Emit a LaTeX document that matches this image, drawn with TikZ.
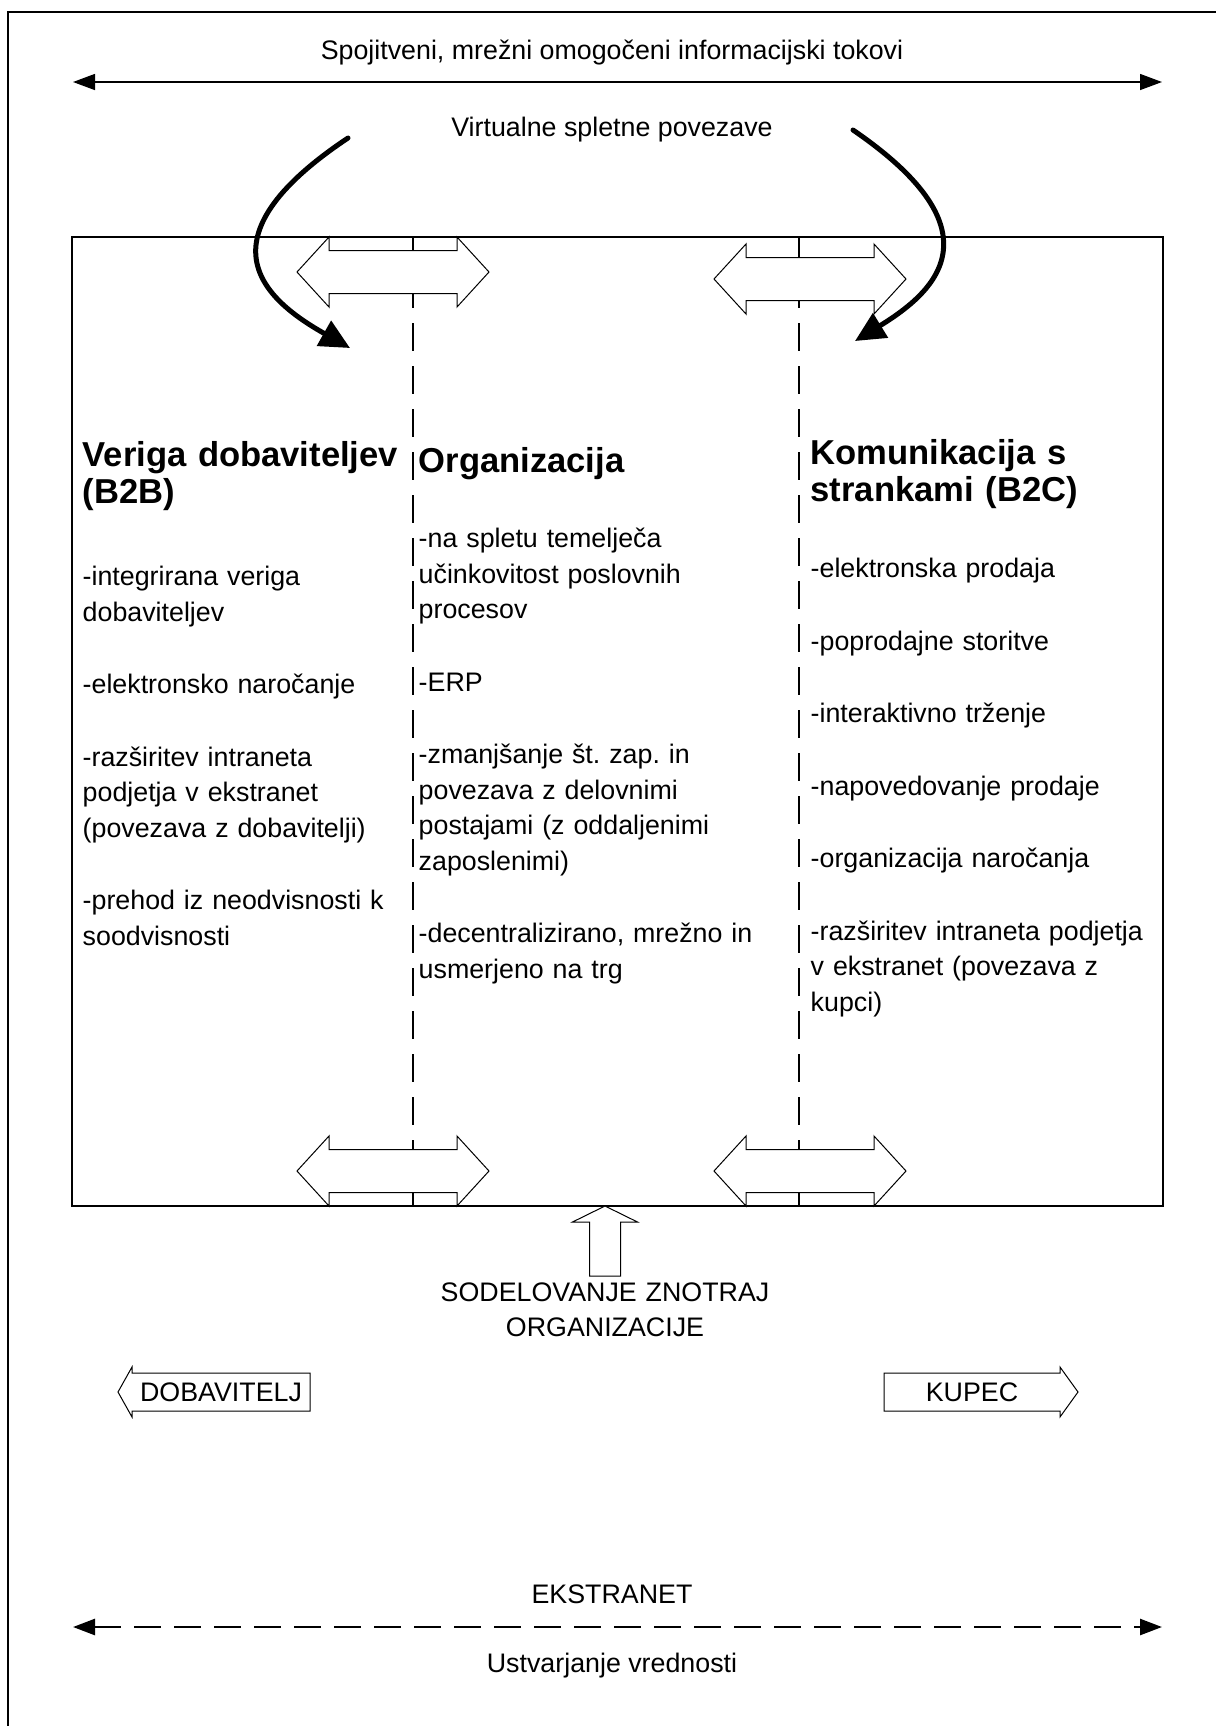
\documentclass[tikz,border=0pt]{standalone}
\usepackage{fontspec}
\setmainfont{Liberation Sans}
\usetikzlibrary{%
  arrows.meta,%
  positioning% wg. " of "
}

\begin{document}
\begin{tikzpicture}
  [
  x=0.5pt, y=-0.5pt,
  line width=0.7pt,
  draw=black, >={Triangle[length=11pt,width=8pt]},
  txt/.style={font=\fontsize{13.4}{17.75}\selectfont, inner sep=0pt},
  coltxt/.style={txt, anchor=base west, text width=185pt, align=left},
  coltitle/.style={coltxt, font=\fontsize{17.3}{18.5}\selectfont\bfseries},
  hollow/.style={draw=black, fill=white, line width=0.5pt},
  divider/.style={line width=1.2pt, dash pattern=on 14pt off 7.5pt},
  bent/.style={line width=2.5pt, line cap=round, -{Triangle[length=15pt,width=14pt]}},
  ]

\useasboundingbox (0,0) rectangle (1216,1726);
\draw (1216,12) -- (8,12) -- (8,1726);

\node[txt, anchor=base] (flows) at (612,59) {Spojitveni, mrežni omogočeni informacijski tokovi};
\coordinate (flowL) at (73,82);
\coordinate (flowR) at (1162,82);
\draw[<->] (flowL) -- (flowR);
\node[txt, anchor=base] (virtual) at (612,136) {Virtualne spletne povezave};

\draw (72,237) rectangle (1163,1206);
\draw[divider] (413,237) -- (413,1206);
\draw[divider] (799,237) -- (799,1206);

\draw[hollow] (297,272) -- (329,237) -- (329,250.5) -- (457,250.5) -- (457,237) -- (489,272) -- (457,307) -- (457,293.5) -- (329,293.5) -- (329,307) -- cycle;
\draw[hollow] (714,279) -- (746,244) -- (746,257.5) -- (874,257.5) -- (874,244) -- (906,279) -- (874,314) -- (874,300.5) -- (746,300.5) -- (746,314) -- cycle;
\draw[hollow] (297,1171) -- (329,1136) -- (329,1149.5) -- (457,1149.5) -- (457,1136) -- (489,1171) -- (457,1206) -- (457,1192.5) -- (329,1192.5) -- (329,1206) -- cycle;
\draw[hollow] (714,1171) -- (746,1136) -- (746,1149.5) -- (874,1149.5) -- (874,1136) -- (906,1171) -- (874,1206) -- (874,1192.5) -- (746,1192.5) -- (746,1206) -- cycle;

\coordinate (vlinkL) at (348,138);
\coordinate (supplyin) at (350,348);
\draw[bent] (vlinkL) .. controls (195,240) and (265,300) .. (supplyin);
\coordinate (vlinkR) at (853,130);
\coordinate (custin) at (855,341);
\draw[bent] (vlinkR) .. controls (1002,232) and (935,292) .. (custin);

\node[coltitle] (supplyhd) at (82,466) {Veriga dobaviteljev\\(B2B)};
\node[coltxt] (supplytxt) at (82,585.5) {-integrirana veriga\\dobaviteljev\\[18.5pt]-elektronsko naročanje\\[18.5pt]-razširitev intraneta\\podjetja v ekstranet\\(povezava z dobavitelji)\\[18.5pt]-prehod iz neodvisnosti k\\soodvisnosti};

\node[coltitle] (orghd) at (418,472) {Organizacija};
\node[coltxt] (orgtxt) at (418,547.5) {-na spletu temelječa\\učinkovitost poslovnih\\procesov\\[18.5pt]-ERP\\[18.5pt]-zmanjšanje št.\ zap.\ in\\povezava z delovnimi\\postajami (z oddaljenimi\\zaposlenimi)\\[18.5pt]-decentralizirano, mrežno in\\usmerjeno na trg};

\node[coltitle] (custhd) at (810,464) {Komunikacija s\\strankami (B2C)};
\node[coltxt] (custtxt) at (810,577.5) {-elektronska prodaja\\[18.5pt]-poprodajne storitve\\[18.5pt]-interaktivno trženje\\[18.5pt]-napovedovanje prodaje\\[18.5pt]-organizacija naročanja\\[18.5pt]-razširitev intraneta podjetja\\v ekstranet (povezava z\\kupci)};

\draw[hollow] (605,1206) -- (637.5,1222) -- (620.5,1222) -- (620.5,1276) -- (589.5,1276) -- (589.5,1222) -- (572.5,1222) -- cycle;
\node[txt, anchor=base, text width=200pt, align=center] (collab) at (605,1301) {SODELOVANJE ZNOTRAJ\\ORGANIZACIJE};

\draw[hollow] (310,1373) -- (132,1373) -- (132,1367) -- (118,1392) -- (132,1417) -- (132,1411) -- (310,1411) -- cycle;
\node[txt] (supplier) at (221,1392) {DOBAVITELJ};
\draw[hollow] (884,1373) -- (1060,1373) -- (1060,1367) -- (1078,1392) -- (1060,1417) -- (1060,1411) -- (884,1411) -- cycle;
\node[txt] (customer) at (972,1392) {KUPEC};

\node[txt, anchor=base] (extranet) at (612,1603) {EKSTRANET};
\coordinate (valueL) at (73,1627);
\coordinate (valueR) at (1162,1627);
\draw[<->, line width=1.3pt, dash pattern=on 13.5pt off 6.5pt] (valueL) -- (valueR);
\node[txt, anchor=base] (value) at (612,1672) {Ustvarjanje vrednosti};
\end{tikzpicture}
\end{document}
